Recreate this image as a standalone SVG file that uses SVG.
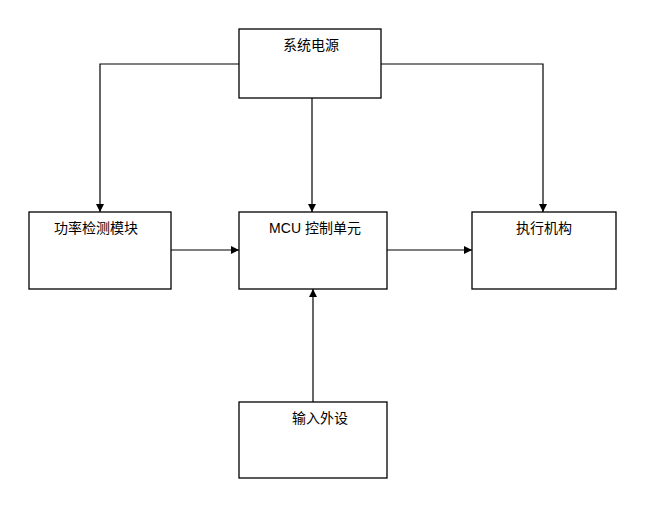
<svg xmlns="http://www.w3.org/2000/svg" width="649" height="514" viewBox="0 0 649 514">
<style>
.box{fill:#fff;stroke:#000;stroke-width:1.3}
.t{font-family:"Liberation Sans","Noto Sans CJK SC",sans-serif;font-size:14px;fill:#000;text-anchor:middle}
.c{fill:none;stroke:#000;stroke-width:1.2}
</style>
<defs>
<marker id="a" viewBox="0 0 10 10" refX="10" refY="5" markerWidth="8" markerHeight="8" markerUnits="userSpaceOnUse" orient="auto"><path d="M0,0L10,5L0,10z" fill="#000"/></marker>
</defs>
<rect width="649" height="514" fill="#fff"/>
<g id="connectors">
<path class="c" d="M239,64H100V212" marker-end="url(#a)"/>
<path class="c" d="M381,64H543V212" marker-end="url(#a)"/>
<path class="c" d="M312,98V212" marker-end="url(#a)"/>
<path class="c" d="M171,250H239" marker-end="url(#a)"/>
<path class="c" d="M387,250H472" marker-end="url(#a)"/>
<path class="c" d="M313,402V289" marker-end="url(#a)"/>
</g>
<g id="power"><rect class="box" x="239" y="29" width="142" height="69"/><text class="t" x="311" y="50">系统电源</text></g>
<g id="detect"><rect class="box" x="29" y="212" width="142" height="77"/><text class="t" x="96" y="233">功率检测模块</text></g>
<g id="mcu"><rect class="box" x="239" y="212" width="148" height="77"/><text class="t" x="315" y="233">MCU 控制单元</text></g>
<g id="actuator"><rect class="box" x="472" y="212" width="144" height="77"/><text class="t" x="544" y="233">执行机构</text></g>
<g id="input"><rect class="box" x="239" y="402" width="148" height="76"/><text class="t" x="320" y="423">输入外设</text></g>
</svg>
